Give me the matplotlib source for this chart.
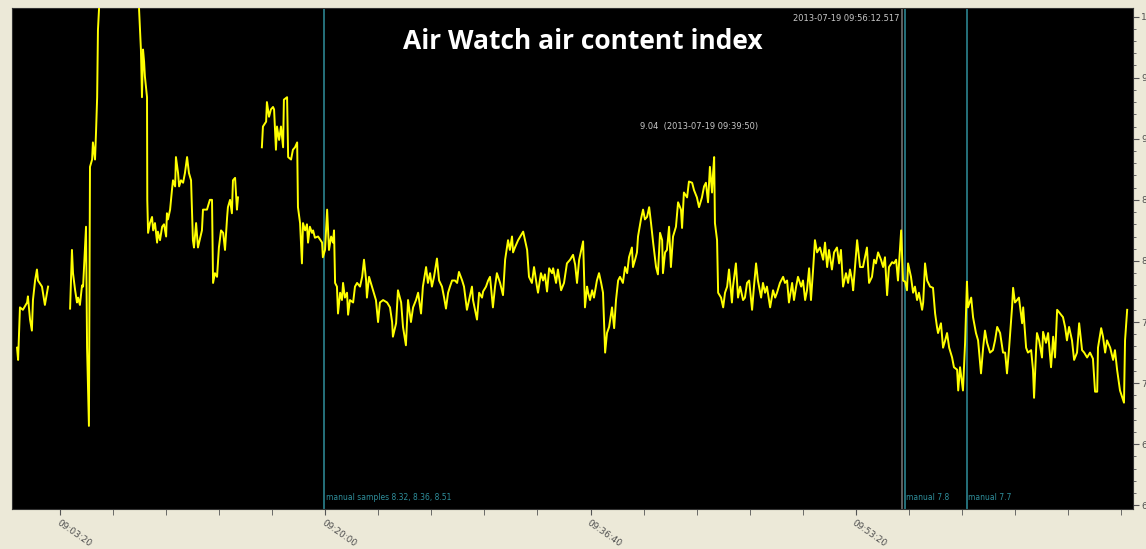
import matplotlib.pyplot as plt
from matplotlib.ticker import FuncFormatter, MultipleLocator, FixedLocator
import numpy as np

# Trend data: seconds after 09:00:00 and air content index (nan = gap in data)
t_sec = [38, 42, 49, 60, 76, 79, 87, 94, 98, 106, 113, 117, 132, 143, 155,
         200,
         238, 245, 249, 257, 264, 268, 275, 283, 287, 298, 302, 309, 313, 321,
         324, 332, 336, 340, 343, 347, 352, 494, 498, 505, 509, 513, 517, 520,
         528, 529, 532, 539, 547, 551, 558, 566, 569, 577, 585, 592, 600, 603,
         607, 615, 622, 626, 634, 637, 645, 649, 656, 664, 671, 679, 686, 694,
         701, 705, 713, 720, 735, 739, 754, 765, 773, 777, 784, 792, 799, 807,
         815, 822, 830, 833, 841, 848, 852, 860, 867, 871,
         915,
         961, 965, 977, 980, 988, 995, 1003, 1007, 1014, 1018, 1026, 1033,
         1041, 1044, 1056, 1060, 1071, 1078, 1086, 1094, 1097, 1105, 1112,
         1116, 1124, 1131, 1135, 1142, 1150, 1154, 1161, 1173, 1188, 1191,
         1199, 1207, 1214, 1222, 1229, 1233, 1237, 1244, 1248, 1256, 1263,
         1267, 1274, 1282, 1286, 1293, 1305, 1312, 1320, 1331, 1339, 1346,
         1354, 1357, 1365, 1376, 1380, 1391, 1399, 1406, 1418, 1433, 1444,
         1452, 1455, 1467, 1474, 1486, 1493, 1504, 1512, 1523, 1531, 1542,
         1550, 1561, 1568, 1580, 1587, 1595, 1602, 1610, 1621, 1629, 1640,
         1648, 1655, 1663, 1670, 1678, 1689, 1697, 1704, 1716, 1723, 1734,
         1742, 1753, 1757, 1772, 1780, 1791, 1795, 1806, 1814, 1821, 1832,
         1840, 1847, 1859, 1870, 1878, 1885, 1889, 1896, 1904, 1908, 1915,
         1927, 1946, 1953, 1961, 1968, 1979, 1987, 1998, 2002, 2013, 2021,
         2028, 2036, 2044, 2055, 2059, 2070, 2077, 2089, 2100, 2111, 2123,
         2134, 2142, 2149, 2157, 2172, 2179, 2187, 2191, 2198, 2206, 2213,
         2224, 2232, 2240, 2247, 2255, 2262, 2270, 2281, 2289, 2296, 2304,
         2311, 2322, 2330, 2338, 2345, 2356, 2360, 2368, 2375, 2379, 2390,
         2398, 2405, 2413, 2421, 2428, 2436, 2447, 2454, 2462, 2470, 2473,
         2481, 2488, 2496, 2503, 2511, 2522, 2530, 2541, 2545, 2552, 2564,
         2571, 2583, 2590, 2601, 2609, 2620, 2628, 2635, 2643, 2650, 2658,
         2662, 2666, 2669, 2677, 2681, 2692, 2700, 2707, 2715, 2722, 2733,
         2737, 2748, 2756, 2764, 2775, 2782, 2790, 2798, 2809, 2816, 2824,
         2831, 2843, 2850, 2858, 2865, 2877, 2888, 2896, 2903, 2914, 2926,
         2933, 2941, 2948, 2960, 2967, 2975, 2982, 2994, 3001, 3009, 3016,
         3024, 3031, 3039, 3046, 3054, 3065, 3077, 3084, 3092, 3099, 3110,
         3118, 3129, 3137, 3144, 3152, 3163, 3171, 3178, 3186, 3190, 3197,
         3205, 3216, 3227, 3242, 3250, 3261, 3269, 3276, 3284, 3295, 3303,
         3310, 3318, 3325, 3337, 3344, 3352, 3359, 3371, 3378, 3386, 3393,
         3397, 3408, 3416, 3423, 3431, 3438, 3450, 3454, 3461, 3469, 3480,
         3491, 3499, 3506, 3510, 3521, 3529, 3537, 3544, 3552, 3563, 3570,
         3582, 3586, 3593, 3604, 3612, 3619, 3623, 3635, 3642, 3653, 3661,
         3672, 3680, 3687, 3695, 3706, 3717, 3725, 3733, 3744, 3755, 3763,
         3770, 3778, 3789, 3793, 3800, 3808, 3815, 3827, 3831, 3842, 3849,
         3861, 3868, 3872, 3880, 3883, 3891, 3902, 3906, 3917, 3925, 3936,
         3944, 3951, 3959, 3970, 3981, 3989, 3996, 4004, 4015, 4023, 4034,
         4042, 4053, 4061, 4072, 4083, 4094, 4102, 4110, 4113, 4125, 4132,
         4140, 4147, 4159, 4170, 4177, 4185, 4196, 4208, 4211, 4215, 4223]

index_val = [7.29, 7.19, 7.62, 7.60, 7.66, 7.71, 7.52, 7.43, 7.68, 7.84, 7.93, 7.84, 7.79, 7.64, 7.79,
             np.nan,
             7.61, 8.09, 7.90, 7.76, 7.66, 7.70, 7.64, 7.80, 7.79, 8.28, 7.29, 6.65, 8.77, 8.83,
             8.97, 8.83, 9.07, 9.34, 9.89, 10.06, 10.5, 10.5, 10.06, 9.73, 9.34, 9.73, 9.63, 9.51,
             9.34, 8.50, 8.23, 8.31, 8.36, 8.25, 8.31, 8.15, 8.24, 8.17, 8.28, 8.30, 8.20, 8.39,
             8.34, 8.42, 8.58, 8.66, 8.61, 8.85, 8.72, 8.61, 8.66, 8.64, 8.72, 8.85, 8.72, 8.66,
             8.17, 8.11, 8.31, 8.11, 8.25, 8.42, 8.42, 8.50, 8.50, 7.82, 7.90, 7.87, 8.11, 8.25,
             8.23, 8.09, 8.36, 8.44, 8.50, 8.39, 8.66, 8.68, 8.42, 8.52,
             np.nan,
             8.93, 9.10, 9.14, 9.30, 9.18, 9.24, 9.26, 9.24, 8.91, 9.10, 8.99, 9.10,
             8.93, 9.32, 9.34, 8.85, 8.83, 8.91, 8.93, 8.97, 8.44, 8.31, 7.98,
             8.31, 8.25, 8.30, 8.15, 8.28, 8.23, 8.25, 8.19, 8.20, 8.15, 8.03,
             8.09, 8.42, 8.09, 8.20, 8.15, 8.25, 7.82, 7.79, 7.57, 7.74, 7.68,
             7.82, 7.70, 7.74, 7.56, 7.68, 7.66, 7.79, 7.82, 7.79, 7.87, 8.01,
             7.84, 7.70, 7.87, 7.79, 7.76, 7.68, 7.50, 7.66, 7.68, 7.66, 7.62,
             7.50, 7.38, 7.49, 7.76, 7.66, 7.46, 7.31, 7.68, 7.50, 7.62, 7.68,
             7.74, 7.57, 7.79, 7.95, 7.82, 7.90, 7.79, 7.87, 8.02, 7.84, 7.79,
             7.70, 7.61, 7.74, 7.79, 7.84, 7.84, 7.82, 7.91, 7.84, 7.79, 7.60,
             7.68, 7.79, 7.68, 7.52, 7.74, 7.70, 7.75, 7.79, 7.84, 7.87, 7.62,
             7.79, 7.90, 7.82, 7.72, 8.01, 8.11, 8.17, 8.09, 8.20, 8.07, 8.11,
             8.17, 8.24, 8.17, 8.09, 7.87, 7.82, 7.95, 7.79, 7.74, 7.90, 7.84,
             7.89, 7.75, 7.94, 7.90, 7.94, 7.82, 7.93, 7.76, 7.82, 7.98, 8.01,
             8.05, 7.97, 7.82, 8.01, 8.16, 7.62, 7.79, 7.74, 7.68, 7.76, 7.70,
             7.84, 7.90, 7.82, 7.74, 7.25, 7.41, 7.46, 7.62, 7.45, 7.68, 7.84,
             7.87, 7.82, 7.95, 7.90, 8.03, 8.11, 7.95, 8.01, 8.07, 8.20, 8.34,
             8.42, 8.34, 8.36, 8.44, 8.31, 8.15, 7.95, 7.89, 8.23, 8.17, 7.90,
             8.07, 8.09, 8.28, 7.95, 8.20, 8.28, 8.48, 8.42, 8.27, 8.56, 8.52,
             8.65, 8.64, 8.58, 8.52, 8.44, 8.52, 8.61, 8.64, 8.48, 8.77, 8.56,
             8.72, 8.85, 8.31, 8.17, 7.74, 7.70, 7.62, 7.74, 7.79, 7.93, 7.66,
             7.79, 7.98, 7.70, 7.79, 7.68, 7.70, 7.82, 7.84, 7.60, 7.79, 7.98,
             7.84, 7.70, 7.82, 7.74, 7.79, 7.62, 7.76, 7.70, 7.74, 7.82, 7.87,
             7.82, 7.84, 7.66, 7.82, 7.68, 7.79, 7.87, 7.79, 7.84, 7.68, 7.76,
             7.94, 7.68, 7.93, 8.17, 8.07, 8.11, 8.01, 8.15, 7.95, 8.09, 7.93,
             8.07, 8.11, 7.98, 8.09, 7.79, 7.90, 7.82, 7.93, 7.84, 7.76, 7.95,
             8.17, 7.95, 7.95, 8.11, 7.82, 7.87, 8.01, 7.98, 8.07, 8.01, 7.95,
             8.03, 7.72, 7.95, 7.99, 7.98, 8.01, 7.84, 8.25, 7.84, 7.83, 7.76,
             7.98, 7.87, 7.74, 7.79, 7.68, 7.74, 7.60, 7.66, 7.98, 7.84, 7.79,
             7.78, 7.57, 7.46, 7.41, 7.49, 7.29, 7.35, 7.41, 7.29, 7.21, 7.13,
             7.11, 6.94, 7.13, 6.94, 7.33, 7.83, 7.62, 7.70, 7.54, 7.41, 7.35,
             7.08, 7.29, 7.43, 7.33, 7.25, 7.27, 7.35, 7.46, 7.41, 7.25, 7.25,
             7.08, 7.29, 7.62, 7.78, 7.66, 7.68, 7.70, 7.49, 7.62, 7.29, 7.25,
             7.27, 7.11, 6.88, 7.29, 7.41, 7.35, 7.21, 7.42, 7.33, 7.41, 7.13,
             7.38, 7.21, 7.60, 7.57, 7.54, 7.46, 7.35, 7.46, 7.35, 7.19, 7.25,
             7.49, 7.27, 7.25, 7.21, 7.25, 7.20, 6.93, 6.93, 7.29, 7.45, 7.38,
             7.25, 7.35, 7.29, 7.19, 7.27, 7.11, 6.94, 6.86, 6.84, 7.35, 7.60]

# Manual sample markers (seconds after 09:00:00) and their labels
manual_times = [1197, 3386, 3619]
manual_labels = ['manual samples 8.32, 8.36, 8.51', 'manual 7.8', 'manual 7.7']
cursor_time = 3372.5
cursor_label = '2013-07-19 09:56:12.517'
peak_label = '9.04  (2013-07-19 09:39:50)'

t_sec = np.array(t_sec, dtype=float)
index_val = np.array(index_val, dtype=float)


def hms(s, pos=None):
    s = int(round(s)) + 9 * 3600
    return '%02d:%02d:%02d' % (s // 3600, (s % 3600) // 60, s % 60)


fig = plt.figure(figsize=(11.46, 5.49), dpi=100, facecolor='#ECE9D8')
ax = fig.add_axes([12 / 1146, 40 / 549, 1121 / 1146, 501 / 549])
ax.set_facecolor('black')

teal = '#2F8F9C'
for mt, ml in zip(manual_times, manual_labels):
    ax.axvline(mt, color=teal, lw=1.1, zorder=2)
    ax.text(mt + 4, 6.03, ml, color=teal, fontsize=5.5, ha='left', va='bottom')
ax.axvline(cursor_time, color='#7a7a7a', lw=1.1, zorder=2)
ax.text(cursor_time - 8, 10.02, cursor_label, color='#c8c8c8', fontsize=6,
        ha='right', va='top')
ax.text(2609, 9.10, peak_label, color='#c8c8c8', fontsize=6, ha='center', va='center')

ax.plot(t_sec, index_val, color='#FFFF00', lw=1.4, zorder=3)

ax.set_xlim(19, 4245)
ax.set_ylim(5.97, 10.07)

ax.text(0.509, 0.933, 'Air Watch air content index', transform=ax.transAxes,
        color='white', fontsize=19, fontweight='bold', ha='center', va='center',
        family='Open Sans')

# x axis: labelled every 1000 s, minor ticks every 200 s
ax.xaxis.set_major_locator(FixedLocator([200, 1200, 2200, 3200]))
ax.xaxis.set_minor_locator(MultipleLocator(200))
ax.xaxis.set_major_formatter(FuncFormatter(hms))
ax.tick_params(axis='x', which='both', length=4, color='#555555', labelsize=6.5,
               labelcolor='#505050', pad=3)
for lab in ax.get_xticklabels():
    lab.set_rotation(-35)
    lab.set_ha('left')
    lab.set_va('top')
    lab.set_rotation_mode('anchor')

# y axis on the right, cut off by the window edge
ax.yaxis.tick_right()
ax.yaxis.set_major_locator(MultipleLocator(0.5))
ax.yaxis.set_minor_locator(MultipleLocator(0.1))
ax.yaxis.set_major_formatter(FuncFormatter(lambda v, p: '%.1f' % v))
ax.tick_params(axis='y', which='major', length=4, color='#555555', labelsize=6.5,
               labelcolor='#505050', pad=2)
ax.tick_params(axis='y', which='minor', length=2, color='#555555')

for sp in ax.spines.values():
    sp.set_color('#333333')

fig.savefig('out.png', dpi=100, facecolor=fig.get_facecolor())
